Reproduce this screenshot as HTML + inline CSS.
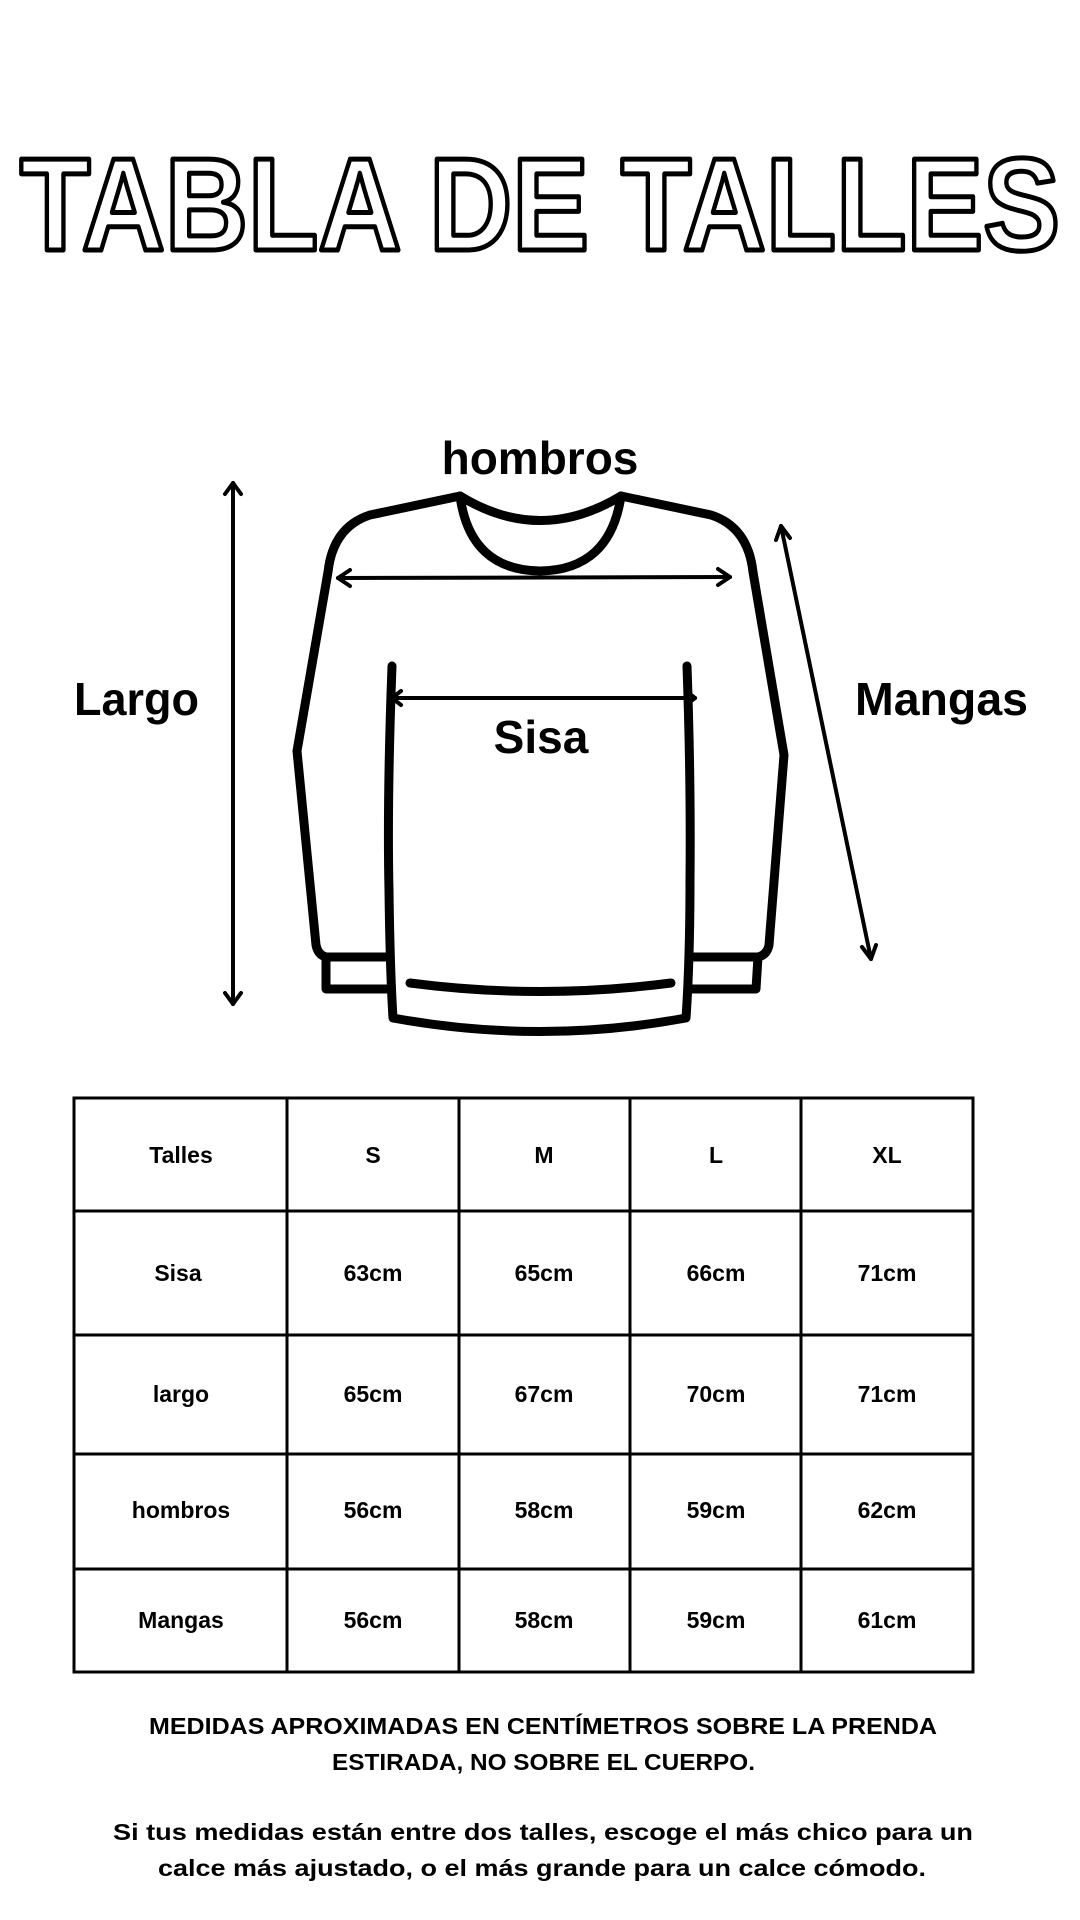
<!DOCTYPE html>
<html><head><meta charset="utf-8"><style>
html,body{margin:0;padding:0;background:#fff;}
svg{display:block;}
text{font-family:"Liberation Sans",sans-serif;font-weight:bold;fill:#000;}
</style></head><body>
<svg width="1080" height="1920" viewBox="0 0 1080 1920" xmlns="http://www.w3.org/2000/svg">
<rect width="1080" height="1920" fill="#fff"/>
<text x="20" y="250" font-size="132" textLength="1040" lengthAdjust="spacingAndGlyphs" style="fill:#fff;stroke:#000;stroke-width:5;stroke-linejoin:round;font-weight:bold">TABLA DE TALLES</text>

<g fill="none" stroke="#000" stroke-width="9" stroke-linecap="round" stroke-linejoin="round">
<path d="M460,496 Q540,545 621,496"/>
<path d="M460,496 Q470,570 540,571 Q610,570 621,496"/>
<path d="M460,496 L370,515 Q333,527 328,572 L297,751 L316,945 Q318,955 326,957 L326,989 L390,989"/>
<path d="M326,957 L390,957"/>
<path d="M621,496 L711,515 Q748,527 753,572 L784,755 L769,945 Q767,955 758,957 L756,989 L690,989"/>
<path d="M758,957 L690,957"/>
<path d="M392,666 Q387,800 389,890 Q390,970 393,1018 Q540,1045 686,1018 Q690,960 690,880 Q691,780 687,666"/>
<path d="M410,983 Q540,1000 671,983"/>
</g>

<g fill="none" stroke="#000" stroke-width="4" stroke-linecap="round" stroke-linejoin="round">
<path d="M338,578 L730,577"/>
<path d="M350,570 L338,578 L350,586"/>
<path d="M718,569 L730,577 L718,585"/>
<path d="M392,698 L695,698"/>
<path d="M401,691 L392,698 L401,705"/>
<path d="M686,691 L695,698 L686,705"/>
<path d="M233,483 L233,1004"/>
<path d="M225,494 L233,483 L241,494"/>
<path d="M225,993 L233,1004 L241,993"/>
<path d="M781,526 L871,959"/>
<path d="M776,540 L781,526 L790,538"/>
<path d="M862,947 L871,959 L876,945"/>
</g>

<text x="540" y="474" font-size="46" text-anchor="middle">hombros</text>
<text x="74" y="715" font-size="46" textLength="125" lengthAdjust="spacingAndGlyphs">Largo</text>
<text x="855" y="715" font-size="46" textLength="173" lengthAdjust="spacingAndGlyphs">Mangas</text>
<text x="541" y="753" font-size="46" text-anchor="middle">Sisa</text>

<g fill="none" stroke="#000" stroke-width="3">
<rect x="74" y="1098" width="899" height="574"/>
<line x1="287" y1="1098" x2="287" y2="1672"/>
<line x1="459" y1="1098" x2="459" y2="1672"/>
<line x1="630" y1="1098" x2="630" y2="1672"/>
<line x1="801" y1="1098" x2="801" y2="1672"/>
<line x1="74" y1="1211" x2="973" y2="1211"/>
<line x1="74" y1="1335" x2="973" y2="1335"/>
<line x1="74" y1="1454" x2="973" y2="1454"/>
<line x1="74" y1="1569" x2="973" y2="1569"/>
</g>
<g font-size="23" text-anchor="middle">
<text x="181" y="1163">Talles</text><text x="373" y="1163">S</text><text x="544" y="1163">M</text><text x="716" y="1163">L</text><text x="887" y="1163">XL</text>
<text x="178" y="1281">Sisa</text><text x="373" y="1281">63cm</text><text x="544" y="1281">65cm</text><text x="716" y="1281">66cm</text><text x="887" y="1281">71cm</text>
<text x="181" y="1402">largo</text><text x="373" y="1402">65cm</text><text x="544" y="1402">67cm</text><text x="716" y="1402">70cm</text><text x="887" y="1402">71cm</text>
<text x="181" y="1518">hombros</text><text x="373" y="1518">56cm</text><text x="544" y="1518">58cm</text><text x="716" y="1518">59cm</text><text x="887" y="1518">62cm</text>
<text x="181" y="1628">Mangas</text><text x="373" y="1628">56cm</text><text x="544" y="1628">58cm</text><text x="716" y="1628">59cm</text><text x="887" y="1628">61cm</text>
</g>

<g font-size="23">
<text x="149" y="1734" textLength="788" lengthAdjust="spacingAndGlyphs">MEDIDAS APROXIMADAS EN CENTÍMETROS SOBRE LA PRENDA</text>
<text x="332" y="1770" textLength="423" lengthAdjust="spacingAndGlyphs">ESTIRADA, NO SOBRE EL CUERPO.</text>
<text x="113" y="1840" textLength="860" lengthAdjust="spacingAndGlyphs">Si tus medidas están entre dos talles, escoge el más chico para un</text>
<text x="158" y="1876" textLength="768" lengthAdjust="spacingAndGlyphs">calce más ajustado, o el más grande para un calce cómodo.</text>
</g>
</svg>
</body></html>
